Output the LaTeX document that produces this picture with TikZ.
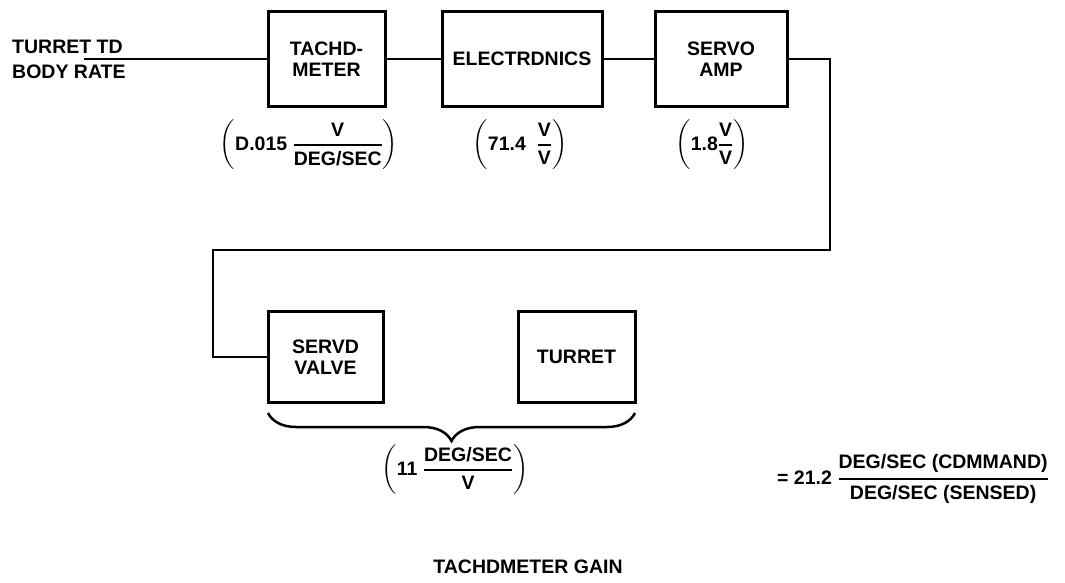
\documentclass[tikz,border=0pt]{standalone}
\usepackage{fontspec}
\usepackage{amsmath}
\setmainfont{Liberation Sans}
\usetikzlibrary{decorations.pathreplacing}
\newcommand{\gfrac}[2]{\genfrac{}{}{1.8pt}{0}{\mbox{#1}}{\mbox{#2}}}
\tikzset{
  lbl/.style={font=\bfseries\fontsize{19.5}{21}\selectfont, inner sep=0pt, align=center},
  blk/.style={lbl, draw, line width=3pt, minimum height=95pt},
  wire/.style={line width=2.2pt},
}
\begin{document}
\begin{tikzpicture}[x=1pt,y=-1pt]
\useasboundingbox[fill=white] (0,0) rectangle (1065,582);
% blocks
\node[blk, minimum width=117pt] (tach) at (326.5,59) {TACHD-\\METER};
\node[blk, minimum width=160pt] (elec) at (522,59) {ELECTRDNICS};
\node[blk, minimum width=132pt] (amp) at (721,59) {SERVO\\AMP};
\node[blk, minimum width=115pt, minimum height=91pt] (valve) at (325.5,357) {SERVD\\VALVE};
\node[blk, minimum width=117pt, minimum height=91pt] (turret) at (576.5,357) {TURRET};
% input
\node[lbl, anchor=base west] (in1) at (12,53) {TURRET TD};
\node[lbl, anchor=base west] (in2) at (12,78) {BODY RATE};
\coordinate (inp) at (84,59);
\draw[wire] (inp) -- (tach.west);
\draw[wire] (tach.east) -- (elec.west);
\draw[wire] (elec.east) -- (amp.west);
\coordinate (c1) at (830,250);
\coordinate (c2) at (213,250);
\draw[wire] (amp.east) -| (c1) -- (c2) |- (valve.west);
% gains
\node[lbl] (g1) at (309,145) {$\left(\mbox{D.015\ }\gfrac{V}{DEG/SEC}\right)$};
\node[lbl] (g2) at (520,145) {$\left(\mbox{71.4\ \ }\gfrac{V}{V}\right)$};
\node[lbl] (g3) at (712,145) {$\left(\mbox{1.8}\gfrac{V}{V}\right)$};
% brace
\coordinate (bl) at (268,413);
\coordinate (br) at (635,413);
\draw[line width=2.5pt, decorate, decoration={brace, mirror, amplitude=28pt, aspect=0.5}] (bl) -- (br);
\node[lbl] (g4) at (455,470) {$\left(\mbox{11\ }\gfrac{DEG/SEC}{V}\right)$};
% result
\node[lbl, anchor=west] (res) at (777,479) {= 21.2 $\gfrac{DEG/SEC (CDMMAND)}{DEG/SEC (SENSED)}$};
% title
\node[lbl] (title) at (528,567) {TACHDMETER GAIN};
\end{tikzpicture}
\end{document}
